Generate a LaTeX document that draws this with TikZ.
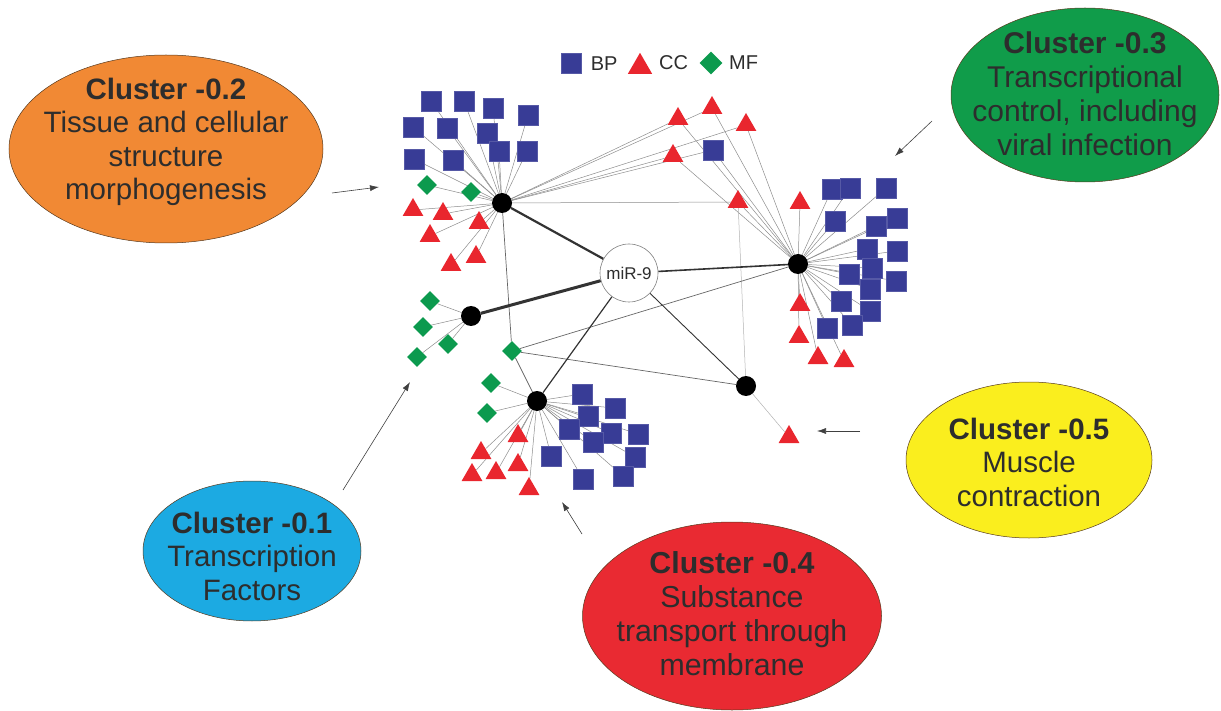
\documentclass[tikz,border=0pt]{standalone}
\usepackage{fontspec}
\setmainfont{Liberation Sans}
\usetikzlibrary{positioning,shapes.geometric,arrows.meta,backgrounds}
\definecolor{bpblue}{RGB}{56,60,150}
\definecolor{ccred}{RGB}{233,38,46}
\definecolor{mfgreen}{RGB}{12,154,78}
\definecolor{txtgray}{RGB}{45,45,45}
\definecolor{clorange}{RGB}{241,137,52}
\definecolor{clgreen}{RGB}{16,156,74}
\definecolor{clyellow}{RGB}{250,238,30}
\definecolor{clred}{RGB}{233,42,50}
\definecolor{clblue}{RGB}{28,170,226}
\tikzset{line/.style={draw=black!45, line width=0.5pt}}

\begin{document}
\begin{tikzpicture}[x=1pt,y=-1pt,
  bp/.style={rectangle,fill=bpblue,draw=bpblue!85!white,line width=0.3pt,minimum size=20pt,inner sep=0pt},
  cc/.style={regular polygon,regular polygon sides=3,fill=ccred,minimum size=24pt,inner sep=0pt,yshift=-3pt},
  mf/.style={diamond,fill=mfgreen,minimum size=20pt,inner sep=0pt},
  hub/.style={circle,fill=black,minimum size=20pt,inner sep=0pt},
  legend/.style={inner sep=0pt,text=txtgray,font=\fontsize{20}{24}\selectfont},
  cluster/.style={ellipse,draw=black!55!brown,line width=0.5pt,inner sep=0pt},
  cltext/.style={align=center,text=txtgray,inner sep=0pt,font=\fontsize{29.5}{33.5}\selectfont},
  link/.style={draw=black!80,line width=#1},
  pointer/.style={-{Latex[length=9pt,width=6pt]},draw=black!75,line width=0.6pt}]
\useasboundingbox (0,0) rectangle (1221,711);

% legend
\node [bp] (lbp) at (571.5,63.3) {};
\node [legend,right=9pt of lbp] (tbp) {BP};
\node [cc,minimum size=28pt,yshift=-0.8pt] (lcc) at (640,63) {};
\node [legend,anchor=west] (tcc) at (659,63) {CC};
\node [mf,minimum size=23pt] (lmf) at (711,63) {};
\node [legend,anchor=west] (tmf) at (729,63) {MF};

% centre and hubs
\node [circle,draw=black!50,fill=white,line width=0.6pt,minimum size=58pt,inner sep=0pt,text=txtgray,font=\fontsize{17}{20}\selectfont] (mir) at (629,273) {miR-9};
\node [hub] (ha) at (502,203) {};
\node [hub] (hb) at (798,264) {};
\node [hub] (hc) at (471,316) {};
\node [hub] (hd) at (537,401) {};
\node [hub] (he) at (746,386) {};
\node [mf] (dx) at (512,351) {};

% cluster A
\foreach \x/\y [count=\i] in {431/101,464/101,493/108,528/115,413/127,447/128,487/133,499/151,527/151,414/159,453/160}
  \node [bp] (asq\i) at (\x,\y) {};
\foreach \x/\y [count=\i] in {427/185,471/192}
  \node [mf] (amf\i) at (\x,\y) {};
\foreach \x/\y [count=\i] in {413/207,443/211,479/220,430/233,451/262,476/254}
  \node [cc] (atr\i) at (\x,\y) {};

% shared between A and B
\foreach \x/\y [count=\i] in {678/116,712/105,746/122,673/153,738/199}
  \node [cc] (str\i) at (\x,\y) {};
\node [bp] (ssq) at (713,150) {};

% cluster B
\foreach \x/\y [count=\i] in {800/200,800/302,799/334,818/355,844/358}
  \node [cc] (btr\i) at (\x,\y) {};
\foreach \x/\y [count=\i] in {832/189,850/188,886/188,835/221,876/226,897/218,867/249,897/251,872/268,849/274,896/281,870/289,841/301,870/311,827/328,852/325}
  \node [bp] (bsq\i) at (\x,\y) {};

% cluster C
\foreach \x/\y [count=\i] in {430/301,423/327,448/344,417/357}
  \node [mf] (cmf\i) at (\x,\y) {};

% cluster D
\foreach \x/\y [count=\i] in {491/383,487/413}
  \node [mf] (dmf\i) at (\x,\y) {};
\foreach \x/\y [count=\i] in {518/433,481/450,518/462,472/472,496/470,529/486}
  \node [cc] (dtr\i) at (\x,\y) {};
\foreach \x/\y [count=\i] in {582/394,615/408,588/416,569/429,611/433,638/434,593/442,551/456,635/457,583/479,623/476}
  \node [bp] (dsq\i) at (\x,\y) {};

% cluster E
\node [cc] (etr) at (789,434) {};

\begin{scope}[on background layer]
  \foreach \i in {1,...,11} \draw [line] (ha) -- (asq\i);
  \foreach \i in {1,2} \draw [line] (ha) -- (amf\i);
  \foreach \i in {1,...,6} \draw [line] (ha) -- (atr\i);
  \foreach \i in {1,...,5} {\draw [line] (ha) -- (str\i); \draw [line] (hb) -- (str\i);}
  \draw [line] (ha) -- (ssq);
  \draw [line] (hb) -- (ssq);
  \foreach \i in {1,...,5} \draw [line] (hb) -- (btr\i);
  \foreach \i in {1,...,16} \draw [line] (hb) -- (bsq\i);
  \foreach \i in {1,...,4} \draw [line] (hc) -- (cmf\i);
  \foreach \i in {1,2} \draw [line] (hd) -- (dmf\i);
  \foreach \i in {1,...,6} \draw [line] (hd) -- (dtr\i);
  \foreach \i in {1,...,11} \draw [line] (hd) -- (dsq\i);
  \draw [line,draw=black!30] (he) -- (etr);
  \draw [line,draw=black!30] (he) -- (str5);
  \foreach \h in {ha,hb,hd,he} \draw [line,draw=black!60,line width=0.7pt] (dx) -- (\h);
  % links to miR-9
  \draw [link=2.2pt] (mir) -- (ha);
  \draw [link=1.6pt] (mir) -- (hb);
  \draw [link=3pt] (mir) -- (hc);
  \draw [link=1.2pt] (mir) -- (hd);
  \draw [link=0.9pt] (mir) -- (he);
\end{scope}

% clusters
\node [cluster,fill=clorange,minimum width=314pt,minimum height=188pt,
  label={[cltext,yshift=7pt]center:\textbf{Cluster -0.2}\\Tissue and cellular\\structure\\morphogenesis}] (c2) at (166,149) {};
\node [cluster,fill=clgreen,minimum width=268pt,minimum height=174pt,
  label={[cltext,yshift=1pt,font=\fontsize{30}{34}\selectfont]center:\textbf{Cluster -0.3}\\Transcriptional\\control, including\\viral infection}] (c3) at (1085,95) {};
\node [cluster,fill=clyellow,minimum width=246pt,minimum height=156pt,
  label={[cltext,yshift=-2pt]center:\textbf{Cluster -0.5}\\Muscle\\contraction}] (c5) at (1029,460) {};
\node [cluster,fill=clred,minimum width=299pt,minimum height=188pt,
  label={[cltext,yshift=2.5pt,font=\fontsize{30.3}{34}\selectfont]center:\textbf{Cluster -0.4}\\Substance\\transport through\\membrane}] (c4) at (732,616) {};
\node [cluster,fill=clblue,minimum width=218pt,minimum height=140pt,
  label={[cltext,yshift=-5pt]center:\textbf{Cluster -0.1}\\Transcription\\Factors}] (c1) at (252,551) {};

% pointers
\coordinate (p2s) at (332,193); \coordinate (p2e) at (379,187);
\coordinate (p3s) at (932,121); \coordinate (p3e) at (895,156);
\coordinate (p5s) at (860,431); \coordinate (p5e) at (817,431);
\coordinate (p4s) at (582,534); \coordinate (p4e) at (562,502);
\coordinate (p1s) at (343,490); \coordinate (p1e) at (410,382);
\foreach \c in {2,3,5,4,1} \draw [pointer] (p\c s) -- (p\c e);
\end{tikzpicture}
\end{document}
